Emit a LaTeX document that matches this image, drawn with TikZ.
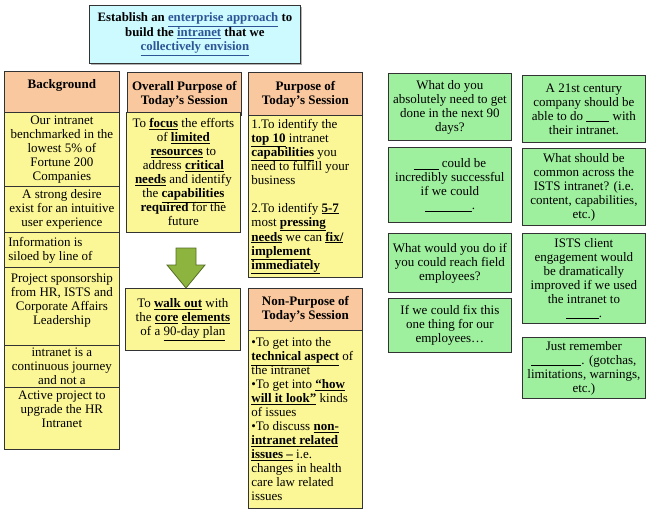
\documentclass[tikz,border=0pt]{standalone}
\usepackage{fontspec}
\setmainfont{Liberation Serif}
\usepackage{xcolor}
\usepackage{tikz}
\usetikzlibrary{shadows}
\definecolor{titlecyan}{RGB}{204,250,255}
\definecolor{headpeach}{RGB}{250,200,158}
\definecolor{notepale}{RGB}{252,247,150}
\definecolor{cardgreen}{RGB}{158,240,158}
\definecolor{arrowolive}{RGB}{141,180,62}
\definecolor{linkblue}{RGB}{45,85,150}
\newcommand{\ubf}[1]{\textbf{\underline{#1}}}
\newcommand{\lnk}[1]{\textcolor{linkblue}{\underline{#1}}}
\newcommand{\answerline}[1]{\rule[-1.6pt]{#1}{0.6pt}}

\begin{document}
\begin{tikzpicture}[
    x=1pt, y=-1pt,
    box/.style={rectangle, draw=black!80, line width=0.8pt, anchor=north west, inner sep=2pt, align=center, font=\fontsize{13}{14}\selectfont},
    header/.style={box, fill=headpeach, font=\fontsize{13}{14}\selectfont\bfseries},
    note/.style={box, fill=notepale},
    card/.style={box, fill=cardgreen, minimum width=123pt},
    blockarrow/.style={draw=arrowolive!60!black, fill=arrowolive, line width=0.8pt}
]
\useasboundingbox (0,0) rectangle (650,514);

% Goal
\node[box, fill=titlecyan, minimum width=211pt, minimum height=58pt, font=\fontsize{12.8}{14.5}\selectfont\bfseries, drop shadow={shadow xshift=1.5pt, shadow yshift=-1.5pt, opacity=.6}] (goal) at (89,5) {Establish an \lnk{enterprise approach} to\\build the \lnk{intranet} that we\\\lnk{collectively envision}};

% Background column
\node[header, align=flush center, text width=109pt, inner xsep=3pt, text height=14pt, text depth=21pt, inner ysep=3pt] (bghead) at (4,71) {Background};
\node[note, minimum width=115pt, minimum height=74pt] (bg1) at (4,112) {Our intranet\\benchmarked in the\\lowest 5\% of\\Fortune 200\\Companies};
\node[note, minimum width=115pt, minimum height=46pt] (bg2) at (4,186) {A strong desire\\exist for an intuitive\\user experience};
\node[note, minimum width=115pt, minimum height=35pt, align=flush left, text width=107pt] (bg3) at (4,232) {Information is\\siloed by line of};
\node[note, align=flush center, text width=109pt, inner xsep=3pt, text height=12pt, text depth=60pt, inner ysep=3pt] (bg4) at (4,267) {Project sponsorship\\from HR, ISTS and\\Corporate Affairs\\Leadership};
\node[note, minimum width=115pt, minimum height=42pt] (bg5) at (4,345) {intranet is a\\continuous journey\\and not a};
\node[note, align=flush center, text width=109pt, inner xsep=3pt, text height=9pt, text depth=47pt, inner ysep=3pt] (bg6) at (4,387) {Active project to\\upgrade the HR\\Intranet};

% Overall purpose column
\node[header, minimum width=114pt, minimum height=43pt] (ovhead) at (127,72) {Overall Purpose of\\Today’s Session};
\node[note, minimum width=114pt, minimum height=120pt] (ovbody) at (126,112) {To \ubf{focus} the efforts\\of \ubf{limited}\\\ubf{resources} to\\address \ubf{critical}\\\ubf{needs} and identify\\the \ubf{capabilities}\\\textbf{required} for the\\future};
\draw[blockarrow] (176,248) -- (196,248) -- (196,265) -- (205,265) -- (186,288) -- (167,265) -- (176,265) -- cycle;
\node[note, minimum width=115pt, minimum height=62pt] (walk) at (125,288) {To \ubf{walk out} with\\the \ubf{core} \ubf{elements}\\of a \underline{90-day plan}};

% Purpose column
\node[header, minimum width=114pt, minimum height=43pt] (phead) at (248,72) {Purpose of\\Today’s Session};
\node[note, minimum width=114pt, minimum height=162pt, align=flush left, text width=108pt, inner xsep=3pt] (pbody) at (248,115) {1.To identify the\\\ubf{top 10} intranet\\\ubf{capabilities} you\\need to fulfill your\\business\\[14pt]2.To identify \ubf{5-7}\\most \ubf{pressing}\\\ubf{needs} we can \ubf{fix/}\\\ubf{implement}\\\ubf{immediately}};
\node[header, minimum width=114pt, minimum height=42pt] (nphead) at (248,288) {Non-Purpose of\\Today’s Session};
\node[note, minimum width=114pt, minimum height=178pt, align=flush left, text width=108pt, inner xsep=3pt] (npbody) at (248,330) {•To get into the\\\ubf{technical aspect} of\\the intranet\\•To get into \ubf{“how}\\\ubf{will it look”} kinds\\of issues\\•To discuss \ubf{non-}\\\ubf{intranet related}\\\ubf{issues –} i.e.\\changes in health\\care law related\\issues};

% Question cards
\node[card, minimum height=67pt] (q1) at (388,73) {What do you\\absolutely need to get\\done in the next 90\\days?};
\node[card, minimum height=75pt] (q2) at (388,147) {\answerline{25pt} could be\\incredibly successful\\if we could\\\answerline{47pt}.};
\node[card, minimum height=59pt] (q3) at (388,233) {What would you do if\\you could reach field\\employees?};
\node[card, minimum height=54pt] (q4) at (388,298) {If we could fix this\\one thing for our\\employees…};
\node[card, minimum height=67pt] (q5) at (522,75) {A 21st century\\company should be\\able to do \answerline{23pt} with\\their intranet.};
\node[card, minimum height=77pt] (q6) at (522,148) {What should be\\common across the\\ISTS intranet? (i.e.\\content, capabilities,\\etc.)};
\node[card, minimum height=90pt] (q7) at (522,233) {ISTS client\\engagement would\\be dramatically\\improved if we used\\the intranet to\\\answerline{33pt}.};
\node[card, minimum height=61pt] (q8) at (522,337) {Just remember\\\answerline{50pt}. (gotchas,\\limitations, warnings,\\etc.)};
\end{tikzpicture}
\end{document}
